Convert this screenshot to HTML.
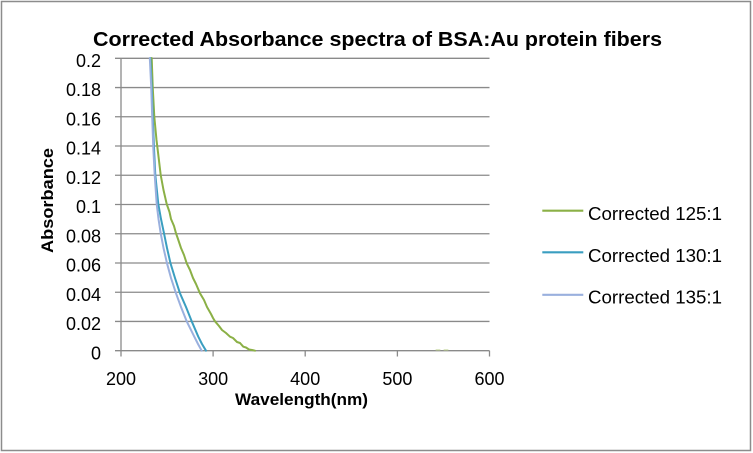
<!DOCTYPE html>
<html>
<head>
<meta charset="utf-8">
<style>
  html, body { margin:0; padding:0; background:#fff; }
  svg { display:block; }
  text { font-family: "Liberation Sans", Arial, sans-serif; fill:#000; }
</style>
</head>
<body>
<svg width="753" height="453" viewBox="0 0 753 453" xmlns="http://www.w3.org/2000/svg">
  <rect x="0" y="0" width="753" height="453" fill="#fff"/>
  <rect x="1.5" y="1.5" width="749" height="449" fill="none" stroke="#8c8c8c" stroke-width="1.5"/>

  <!-- Title -->
  <text x="93" y="46" font-size="20" font-weight="bold" textLength="569" lengthAdjust="spacingAndGlyphs">Corrected Absorbance spectra of BSA:Au protein fibers</text>

  <!-- gridlines -->
  <g stroke="#8a8a8a" stroke-width="1.3" fill="none">
    <line x1="115" y1="321.46" x2="489.5" y2="321.46"/>
    <line x1="115" y1="292.22" x2="489.5" y2="292.22"/>
    <line x1="115" y1="262.98" x2="489.5" y2="262.98"/>
    <line x1="115" y1="233.74" x2="489.5" y2="233.74"/>
    <line x1="115" y1="204.5" x2="489.5" y2="204.5"/>
    <line x1="115" y1="175.26" x2="489.5" y2="175.26"/>
    <line x1="115" y1="146.02" x2="489.5" y2="146.02"/>
    <line x1="115" y1="116.78" x2="489.5" y2="116.78"/>
    <line x1="115" y1="87.54" x2="489.5" y2="87.54"/>
    <line x1="115" y1="58.3" x2="489.5" y2="58.3"/>
    <!-- axes -->
    <line x1="121" y1="58.3" x2="121" y2="356.5"/>
    <line x1="115" y1="350.7" x2="489.5" y2="350.7"/>
    <!-- x ticks -->
    <line x1="213.1" y1="350.7" x2="213.1" y2="356.5"/>
    <line x1="305.2" y1="350.7" x2="305.2" y2="356.5"/>
    <line x1="397.4" y1="350.7" x2="397.4" y2="356.5"/>
    <line x1="489.5" y1="350.7" x2="489.5" y2="356.5"/>
  </g>

  <!-- y tick labels -->
  <g font-size="18" text-anchor="end">
    <text x="101" y="359.4">0</text>
    <text x="101" y="330.2">0.02</text>
    <text x="101" y="300.9">0.04</text>
    <text x="101" y="271.7">0.06</text>
    <text x="101" y="242.4">0.08</text>
    <text x="101" y="213.2">0.1</text>
    <text x="101" y="184">0.12</text>
    <text x="101" y="154.7">0.14</text>
    <text x="101" y="125.5">0.16</text>
    <text x="101" y="96.2">0.18</text>
    <text x="101" y="67">0.2</text>
  </g>

  <!-- x tick labels -->
  <g font-size="18" text-anchor="middle">
    <text x="121" y="385">200</text>
    <text x="213.1" y="385">300</text>
    <text x="305.2" y="385">400</text>
    <text x="397.4" y="385">500</text>
    <text x="489.5" y="385">600</text>
  </g>

  <!-- axis titles -->
  <text x="235" y="405" font-size="17" font-weight="bold" textLength="133" lengthAdjust="spacingAndGlyphs">Wavelength(nm)</text>
  <text transform="translate(53,253) rotate(-90)" x="0" y="0" font-size="17" font-weight="bold" textLength="105" lengthAdjust="spacingAndGlyphs">Absorbance</text>

  <!-- series -->
  <g fill="none" stroke-width="2" stroke-linejoin="round" stroke-linecap="round">
    <polyline stroke="#8bb046" points="151.7,58 152.7,86.7 154.3,116.7 156.5,140 157.6,149 160.7,175 163.5,190 166.7,204 169.5,212 171,219 174,226 176,233.3 178,239 181,248 184,255 186.7,263.3 190,270 193,278 196,284 200,293.3 204,300 207,307 211,314 213,318 215,321.3 219,326 222,330 226,333 230,336.7 233,338 237,342 240,343 243.3,346.7 246,347.5 249,349.5 252,350 255,350.7"/>
    <polyline stroke="#3a9ec0" points="150.3,58 151.7,86.7 152.7,116.7 154,148 155.3,175 158.3,204 161,219 164,233.3 167,248 170.5,263.3 175,278 180,293.3 186,307 191.7,321.3 198.3,336.7 202,344 206,350.7"/>
    <polyline stroke="#9ab0de" points="149.8,58 151.2,86.7 152.2,116.7 153.3,148 154.7,175 156.7,204 158.5,219 160.7,233.3 163.5,248 167,263.3 171,278 176,293.3 181,307 186.7,321.3 194.3,336.7 198,344 201.7,350.7"/>
    <line stroke="#b9cf8a" stroke-width="1" x1="436" y1="350" x2="440" y2="350"/>
    <line stroke="#b9cf8a" stroke-width="1" x1="444" y1="350" x2="448" y2="350"/>
  </g>

  <!-- legend -->
  <g stroke-width="2.2">
    <line x1="542.3" y1="210.7" x2="583.3" y2="210.7" stroke="#8bb046"/>
    <line x1="542.3" y1="252.3" x2="583.3" y2="252.3" stroke="#3a9ec0"/>
    <line x1="542.3" y1="294.8" x2="583.3" y2="294.8" stroke="#9ab0de"/>
  </g>
  <g font-size="18">
    <text x="588" y="219.8" textLength="134" lengthAdjust="spacingAndGlyphs">Corrected 125:1</text>
    <text x="588" y="261.8" textLength="134" lengthAdjust="spacingAndGlyphs">Corrected 130:1</text>
    <text x="588" y="303.5" textLength="134" lengthAdjust="spacingAndGlyphs">Corrected 135:1</text>
  </g>
</svg>
</body>
</html>
